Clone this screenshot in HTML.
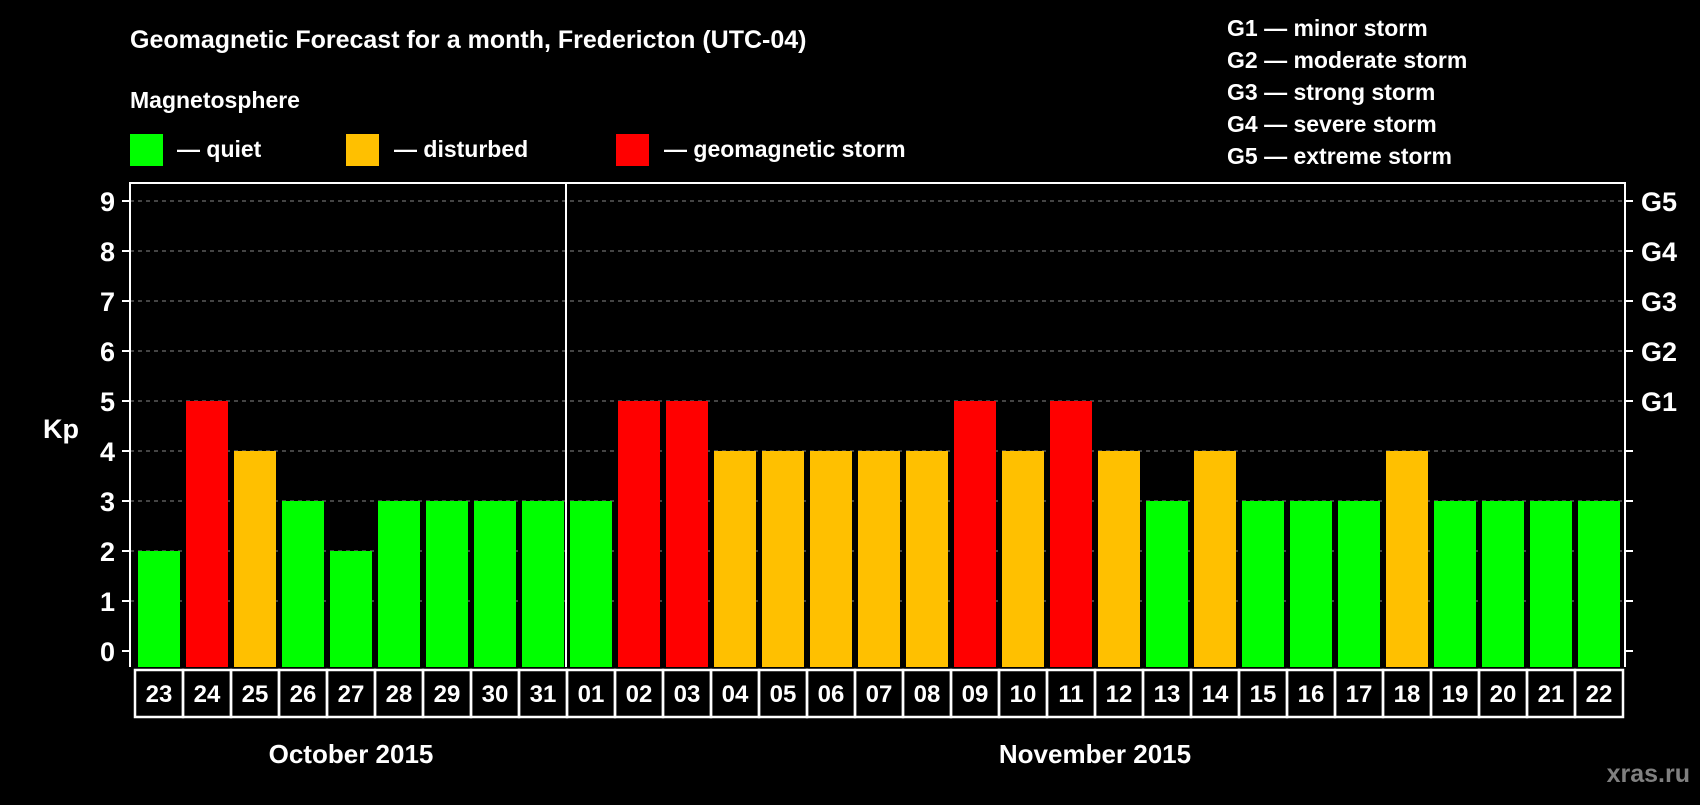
<!DOCTYPE html>
<html><head><meta charset="utf-8"><style>
body{margin:0;background:#000;width:1700px;height:800px;overflow:hidden;font-family:"Liberation Sans",Arial,sans-serif}
</style></head><body>
<svg id="c" width="1700" height="800" xmlns="http://www.w3.org/2000/svg" font-family="Liberation Sans, Arial, sans-serif" font-weight="bold" fill="#fff">
<rect width="1700" height="800" fill="#000"/>
<text x="130" y="48" font-size="25">Geomagnetic Forecast for a month, Fredericton (UTC-04)</text>
<text x="130" y="108" font-size="23">Magnetosphere</text>
<g><rect x="130" y="134" width="33" height="32" fill="#00ff00"/><text x="177" y="157" font-size="23">— quiet</text></g>
<g><rect x="346" y="134" width="33" height="32" fill="#ffc000"/><text x="394" y="157" font-size="23">— disturbed</text></g>
<g><rect x="616" y="134" width="33" height="32" fill="#ff0000"/><text x="664" y="157" font-size="23">— geomagnetic storm</text></g>
<g font-size="23">
<text x="1227" y="36">G1 — minor storm</text>
<text x="1227" y="68">G2 — moderate storm</text>
<text x="1227" y="100">G3 — strong storm</text>
<text x="1227" y="132">G4 — severe storm</text>
<text x="1227" y="164">G5 — extreme storm</text>
</g>
<text x="1690" y="782" font-size="25" fill="#808080" text-anchor="end">xras.ru</text>
<g id="plot"></g>
</svg>
<script>
const days=["23","24","25","26","27","28","29","30","31","01","02","03","04","05","06","07","08","09","10","11","12","13","14","15","16","17","18","19","20","21","22"];
const kp=[2,5,4,3,2,3,3,3,3,3,5,5,4,4,4,4,4,5,4,5,4,3,4,3,3,3,4,3,3,3,3];
const yTicks=[0,1,2,3,4,5,6,7,8,9];
const gLabels=["G1","G2","G3","G4","G5"];
const months=[{name:"October 2015",from:0,to:8},{name:"November 2015",from:9,to:30}];
const NS="http://www.w3.org/2000/svg";
const g=document.getElementById('plot');
const L=130,R=1625,T=183,B=667,X0=135,BW=48;
const y=v=>651-v*50;
const x=i=>X0+i*BW;
function mk(t,a,p){const e=document.createElementNS(NS,t);for(const k in a)e.setAttribute(k,a[k]);(p||g).appendChild(e);return e;}
yTicks.forEach(v=>{
 if(v>0){const gl=mk('line',{x1:L,x2:R,y1:y(v),y2:y(v),stroke:'#888','stroke-dasharray':'4,4','stroke-width':1});
 
 }
 mk('line',{x1:L-8,x2:L,y1:y(v),y2:y(v),stroke:'#fff','stroke-width':2});
 mk('line',{x1:R,x2:R+8,y1:y(v),y2:y(v),stroke:'#fff','stroke-width':2});
 const t=mk('text',{x:115,y:y(v)+10,'font-size':27,'text-anchor':'end'});t.textContent=v;
 
 
});
gLabels.forEach((s,i)=>{const t=mk('text',{x:1641,y:y(5+i)+10,'font-size':27});t.textContent=s;
 
 });
const kl=mk('text',{x:43,y:438,'font-size':27});kl.textContent='Kp';


const col=v=>v>=5?'#ff0000':v>=4?'#ffc000':'#00ff00';
kp.forEach((v,i)=>{
 const b=mk('rect',{x:x(i)+3,y:y(v),width:42,height:y(0)-y(v)+16,fill:col(v)});
 
 
 const bx=mk('rect',{x:x(i),y:670,width:BW,height:47,fill:'none',stroke:'#fff','stroke-width':2.5});
 
 
 const t=mk('text',{x:x(i)+BW/2,y:702,'font-size':24,'text-anchor':'middle'});t.textContent=days[i];
 
 
});
mk('path',{d:`M${L},${B}V${T}H${R}V${B}`,fill:'none',stroke:'#fff','stroke-width':2});
mk('line',{x1:x(9)-1,x2:x(9)-1,y1:T,y2:B,stroke:'#fff','stroke-width':2});
months.forEach(m=>{const t=mk('text',{x:(x(m.from)+x(m.to+1))/2,y:763,'font-size':26,'text-anchor':'middle'});t.textContent=m.name;
 
 });
</script>
</body></html>
